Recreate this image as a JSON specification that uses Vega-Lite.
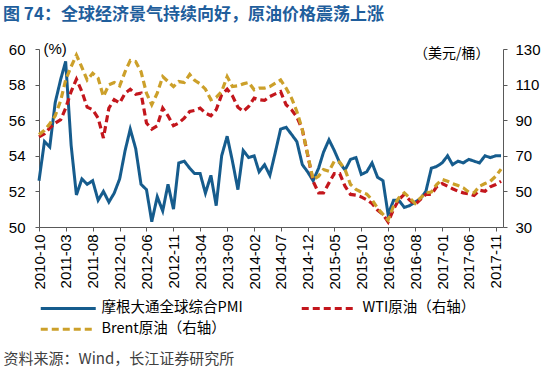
{
  "$schema": "https://vega.github.io/schema/vega-lite/v6.json",
  "width": 464,
  "height": 178,
  "autosize": {"type": "none"},
  "padding": {"left": 39, "top": 49, "right": 47, "bottom": 141},
  "background": "white",
  "config": {"font": "Liberation Sans", "view": {"stroke": null}},
  "title": {
    "text": "图 74：全球经济景气持续向好，原油价格震荡上涨",
    "anchor": "start", "frame": "group", "orient": "top",
    "offset": 0, "dx": -36, "baseline": "bottom",
    "font": "Noto Sans CJK SC", "fontSize": 17, "fontWeight": "bold", "color": "#1F5E9C"
  },
  "data": {
    "format": {"parse": {"d": "date:'%Y-%m'"}},
    "values": [
      {"d":"2010-10","pmi":52.6,"wti":80.6,"brent":81.9},
      {"d":"2010-11","pmi":54.8,"wti":82.4,"brent":84.3},
      {"d":"2010-12","pmi":54.5,"wti":85.6,"brent":88.0},
      {"d":"2011-01","pmi":57.0,"wti":88.4,"brent":92.5},
      {"d":"2011-02","pmi":58.3,"wti":90.3,"brent":101.1},
      {"d":"2011-03","pmi":59.3,"wti":96.8,"brent":112.6},
      {"d":"2011-04","pmi":54.6,"wti":106.1,"brent":120.1},
      {"d":"2011-05","pmi":51.8,"wti":113.0,"brent":126.6},
      {"d":"2011-06","pmi":52.7,"wti":106.1,"brent":119.7},
      {"d":"2011-07","pmi":52.4,"wti":97.3,"brent":112.6},
      {"d":"2011-08","pmi":52.6,"wti":95.9,"brent":116.4},
      {"d":"2011-09","pmi":51.5,"wti":91.2,"brent":113.6},
      {"d":"2011-10","pmi":52.0,"wti":80.0,"brent":103.3},
      {"d":"2011-11","pmi":51.4,"wti":96.8,"brent":109.9},
      {"d":"2011-12","pmi":51.9,"wti":101.5,"brent":111.2},
      {"d":"2012-01","pmi":52.7,"wti":99.6,"brent":109.3},
      {"d":"2012-02","pmi":54.3,"wti":105.2,"brent":117.3},
      {"d":"2012-03","pmi":55.5,"wti":107.4,"brent":123.5},
      {"d":"2012-04","pmi":54.4,"wti":104.6,"brent":122.9},
      {"d":"2012-05","pmi":52.4,"wti":105.2,"brent":117.3},
      {"d":"2012-06","pmi":52.1,"wti":88.4,"brent":105.2},
      {"d":"2012-07","pmi":50.3,"wti":85.0,"brent":98.7},
      {"d":"2012-08","pmi":51.7,"wti":86.9,"brent":105.2},
      {"d":"2012-09","pmi":50.9,"wti":96.8,"brent":114.5},
      {"d":"2012-10","pmi":52.4,"wti":92.5,"brent":111.7},
      {"d":"2012-11","pmi":51.0,"wti":86.9,"brent":108.9},
      {"d":"2012-12","pmi":53.6,"wti":88.4,"brent":111.7},
      {"d":"2013-01","pmi":53.7,"wti":91.2,"brent":111.2},
      {"d":"2013-02","pmi":53.3,"wti":94.9,"brent":115.7},
      {"d":"2013-03","pmi":53.0,"wti":95.5,"brent":112.4},
      {"d":"2013-04","pmi":53.0,"wti":96.8,"brent":110.4},
      {"d":"2013-05","pmi":51.9,"wti":94.0,"brent":107.4},
      {"d":"2013-06","pmi":52.9,"wti":92.5,"brent":101.5},
      {"d":"2013-07","pmi":51.2,"wti":95.9,"brent":102.8},
      {"d":"2013-08","pmi":54.0,"wti":104.3,"brent":106.1},
      {"d":"2013-09","pmi":55.1,"wti":107.4,"brent":114.5},
      {"d":"2013-10","pmi":53.7,"wti":103.7,"brent":108.9},
      {"d":"2013-11","pmi":52.1,"wti":97.3,"brent":109.3},
      {"d":"2013-12","pmi":54.3,"wti":94.9,"brent":110.4},
      {"d":"2014-01","pmi":53.9,"wti":97.7,"brent":111.2},
      {"d":"2014-02","pmi":54.0,"wti":102.4,"brent":107.1},
      {"d":"2014-03","pmi":53.1,"wti":101.5,"brent":108.0},
      {"d":"2014-04","pmi":53.5,"wti":101.1,"brent":108.0},
      {"d":"2014-05","pmi":52.9,"wti":103.3,"brent":108.9},
      {"d":"2014-06","pmi":54.2,"wti":104.8,"brent":110.8},
      {"d":"2014-07","pmi":55.5,"wti":106.1,"brent":112.6},
      {"d":"2014-08","pmi":55.6,"wti":98.7,"brent":108.0},
      {"d":"2014-09","pmi":55.2,"wti":95.9,"brent":102.4},
      {"d":"2014-10","pmi":54.8,"wti":91.8,"brent":94.9},
      {"d":"2014-11","pmi":53.5,"wti":84.7,"brent":84.7},
      {"d":"2014-12","pmi":53.1,"wti":70.7,"brent":70.7},
      {"d":"2015-01","pmi":52.6,"wti":55.7,"brent":56.7},
      {"d":"2015-02","pmi":53.3,"wti":49.2,"brent":58.5},
      {"d":"2015-03","pmi":54.2,"wti":49.2,"brent":62.3},
      {"d":"2015-04","pmi":54.9,"wti":54.8,"brent":61.3},
      {"d":"2015-05","pmi":54.3,"wti":60.0,"brent":66.9},
      {"d":"2015-06","pmi":53.6,"wti":60.0,"brent":66.4},
      {"d":"2015-07","pmi":53.2,"wti":52.9,"brent":62.3},
      {"d":"2015-08","pmi":53.8,"wti":48.3,"brent":53.9},
      {"d":"2015-09","pmi":53.9,"wti":47.9,"brent":51.1},
      {"d":"2015-10","pmi":52.95,"wti":46.9,"brent":49.6},
      {"d":"2015-11","pmi":53.1,"wti":45.3,"brent":48.5},
      {"d":"2015-12","pmi":53.6,"wti":43.2,"brent":45.3},
      {"d":"2016-01","pmi":52.8,"wti":39.5,"brent":40.6},
      {"d":"2016-02","pmi":52.6,"wti":37.1,"brent":37.1},
      {"d":"2016-03","pmi":50.7,"wti":32.8,"brent":33.9},
      {"d":"2016-04","pmi":51.5,"wti":39.9,"brent":41.8},
      {"d":"2016-05","pmi":51.5,"wti":45.5,"brent":46.4},
      {"d":"2016-06","pmi":51.1,"wti":48.3,"brent":49.2},
      {"d":"2016-07","pmi":51.2,"wti":45.1,"brent":46.4},
      {"d":"2016-08","pmi":51.4,"wti":42.7,"brent":43.2},
      {"d":"2016-09","pmi":51.6,"wti":45.5,"brent":46.4},
      {"d":"2016-10","pmi":52.0,"wti":48.3,"brent":49.2},
      {"d":"2016-11","pmi":53.3,"wti":48.3,"brent":49.6},
      {"d":"2016-12","pmi":53.4,"wti":52.6,"brent":53.9},
      {"d":"2017-01","pmi":53.6,"wti":54.4,"brent":56.7},
      {"d":"2017-02","pmi":54.0,"wti":52.9,"brent":55.7},
      {"d":"2017-03","pmi":53.5,"wti":51.5,"brent":54.4},
      {"d":"2017-04","pmi":53.7,"wti":50.1,"brent":53.3},
      {"d":"2017-05","pmi":53.6,"wti":49.2,"brent":52.0},
      {"d":"2017-06","pmi":53.8,"wti":48.7,"brent":49.6},
      {"d":"2017-07","pmi":53.7,"wti":47.7,"brent":49.2},
      {"d":"2017-08","pmi":53.6,"wti":50.7,"brent":52.9},
      {"d":"2017-09","pmi":54.0,"wti":50.1,"brent":54.4},
      {"d":"2017-10","pmi":53.9,"wti":52.6,"brent":55.7},
      {"d":"2017-11","pmi":54.0,"wti":53.9,"brent":58.5},
      {"d":"2017-12","pmi":54.0,"wti":55.7,"brent":62.5}
    ]
  },
  "encoding": {
    "x": {
      "field": "d", "type": "temporal",
      "scale": {"domain": [{"year": 2010, "month": 10, "date": 1}, {"year": 2017, "month": 12, "date": 12}]},
      "axis": {
        "values": [
          {"year": 2010, "month": 10, "date": 1}, {"year": 2011, "month": 3, "date": 1},
          {"year": 2011, "month": 8, "date": 1}, {"year": 2012, "month": 1, "date": 1},
          {"year": 2012, "month": 6, "date": 1}, {"year": 2012, "month": 11, "date": 1},
          {"year": 2013, "month": 4, "date": 1}, {"year": 2013, "month": 9, "date": 1},
          {"year": 2014, "month": 2, "date": 1}, {"year": 2014, "month": 7, "date": 1},
          {"year": 2014, "month": 12, "date": 1}, {"year": 2015, "month": 5, "date": 1},
          {"year": 2015, "month": 10, "date": 1}, {"year": 2016, "month": 3, "date": 1},
          {"year": 2016, "month": 8, "date": 1}, {"year": 2017, "month": 1, "date": 1},
          {"year": 2017, "month": 6, "date": 1}, {"year": 2017, "month": 11, "date": 1}
        ],
        "format": "%Y-%m", "labelAngle": -90, "labelFontSize": 15, "labelColor": "#000",
        "labelFont": "Liberation Sans", "labelPadding": 3, "labelOverlap": false, "labelFlush": false,
        "tickSize": 4, "tickColor": "#595959", "domainColor": "#595959", "grid": false,
        "title": "资料来源：Wind，长江证券研究所", "titleX": -36, "titleY": 131, "titleAlign": "left",
        "titleAngle": 0, "titleBaseline": "middle", "titleFont": "Noto Sans CJK SC",
        "titleFontSize": 15, "titleFontWeight": "normal", "titleColor": "#404040"
      }
    }
  },
  "layer": [
    {
      "transform": [{"fold": ["pmi"], "as": ["s", "v"]}],
      "mark": {"type": "line", "strokeWidth": 3},
      "encoding": {
        "y": {
          "field": "v", "type": "quantitative",
          "scale": {"domain": [50, 60], "nice": false, "zero": false},
          "axis": {
            "orient": "left", "values": [50, 52, 54, 56, 58, 60], "grid": false,
            "labelFontSize": 15, "labelColor": "#000", "labelPadding": 10, "tickSize": 4,
            "tickColor": "#595959", "domainColor": "#595959",
            "title": "(%)", "titleAngle": 0, "titleX": 4, "titleY": -1, "titleAlign": "left",
            "titleBaseline": "middle", "titleFontSize": 15, "titleFontWeight": "normal", "titleColor": "#000"
          }
        },
        "color": {
          "field": "s", "type": "nominal",
          "scale": {"domain": ["pmi", "wti", "brent"], "range": ["#165C8D", "#C3161C", "#CCA02A"]},
          "legend": {
            "orient": "none", "legendX": 22, "legendY": 252, "columns": 2, "direction": "horizontal",
            "title": null, "padding": 0, "values": ["pmi", "wti", "brent"],
            "symbolType": "M-5.5,0L5.5,0", "symbolSize": 100, "symbolStrokeWidth": 3,
            "labelFont": "Noto Sans CJK SC", "labelFontSize": 14.5, "labelColor": "#000", "labelLimit": 300,
            "labelOffset": 26, "columnPadding": 52, "rowPadding": 6,
            "labelExpr": "datum.label == 'pmi' ? '摩根大通全球综合PMI' : datum.label == 'wti' ? 'WTI原油（右轴）' : 'Brent原油（右轴）'"
          }
        },
        "strokeDash": {
          "field": "s", "type": "nominal",
          "scale": {"domain": ["pmi", "wti", "brent"], "range": [[1, 0], [7, 4], [7, 4]]},
          "legend": {
            "orient": "none", "legendX": 22, "legendY": 252, "columns": 2, "direction": "horizontal",
            "title": null, "padding": 0, "values": ["pmi", "wti", "brent"],
            "symbolType": "M-5.5,0L5.5,0", "symbolSize": 100, "symbolStrokeWidth": 3,
            "labelFont": "Noto Sans CJK SC", "labelFontSize": 14.5, "labelColor": "#000", "labelLimit": 300,
            "labelOffset": 26, "columnPadding": 52, "rowPadding": 6,
            "labelExpr": "datum.label == 'pmi' ? '摩根大通全球综合PMI' : datum.label == 'wti' ? 'WTI原油（右轴）' : 'Brent原油（右轴）'"
          }
        }
      }
    },
    {
      "transform": [{"fold": ["wti", "brent"], "as": ["s", "v"]}],
      "mark": {"type": "line", "strokeWidth": 3.2},
      "encoding": {
        "y": {
          "field": "v", "type": "quantitative",
          "scale": {"domain": [30, 130], "nice": false, "zero": false},
          "axis": {
            "orient": "right", "values": [30, 50, 70, 90, 110, 130], "grid": false,
            "labelFontSize": 15, "labelColor": "#000", "labelPadding": 8, "tickSize": 4,
            "tickColor": "#595959", "domainColor": "#595959",
            "title": "（美元/桶）", "titleAngle": 0, "titleX": -14, "titleY": 4, "titleAlign": "right",
            "titleBaseline": "middle", "titleFont": "Noto Sans CJK SC", "titleFontSize": 14,
            "titleFontWeight": "normal", "titleColor": "#000"
          }
        },
        "color": {
          "field": "s", "type": "nominal",
          "scale": {"domain": ["pmi", "wti", "brent"], "range": ["#165C8D", "#C3161C", "#CCA02A"]}
        },
        "strokeDash": {
          "field": "s", "type": "nominal",
          "scale": {"domain": ["pmi", "wti", "brent"], "range": [[1, 0], [7, 4], [7, 4]]}
        }
      }
    },
    {
      "data": {"values": [{}]},
      "mark": {"type": "rect", "fill": "transparent", "stroke": "#E0202A", "strokeWidth": 2, "strokeDash": [2, 2]},
      "encoding": {
        "x": {"datum": {"year": 2016, "month": 3, "date": 1}, "type": "temporal"},
        "x2": {"datum": {"year": 2017, "month": 12, "date": 23}},
        "y": {"datum": 32.3, "type": "quantitative", "scale": {"domain": [30, 130], "nice": false, "zero": false}, "axis": null},
        "y2": {"datum": 122.9}
      }
    }
  ],
  "resolve": {"scale": {"y": "independent"}}
}
